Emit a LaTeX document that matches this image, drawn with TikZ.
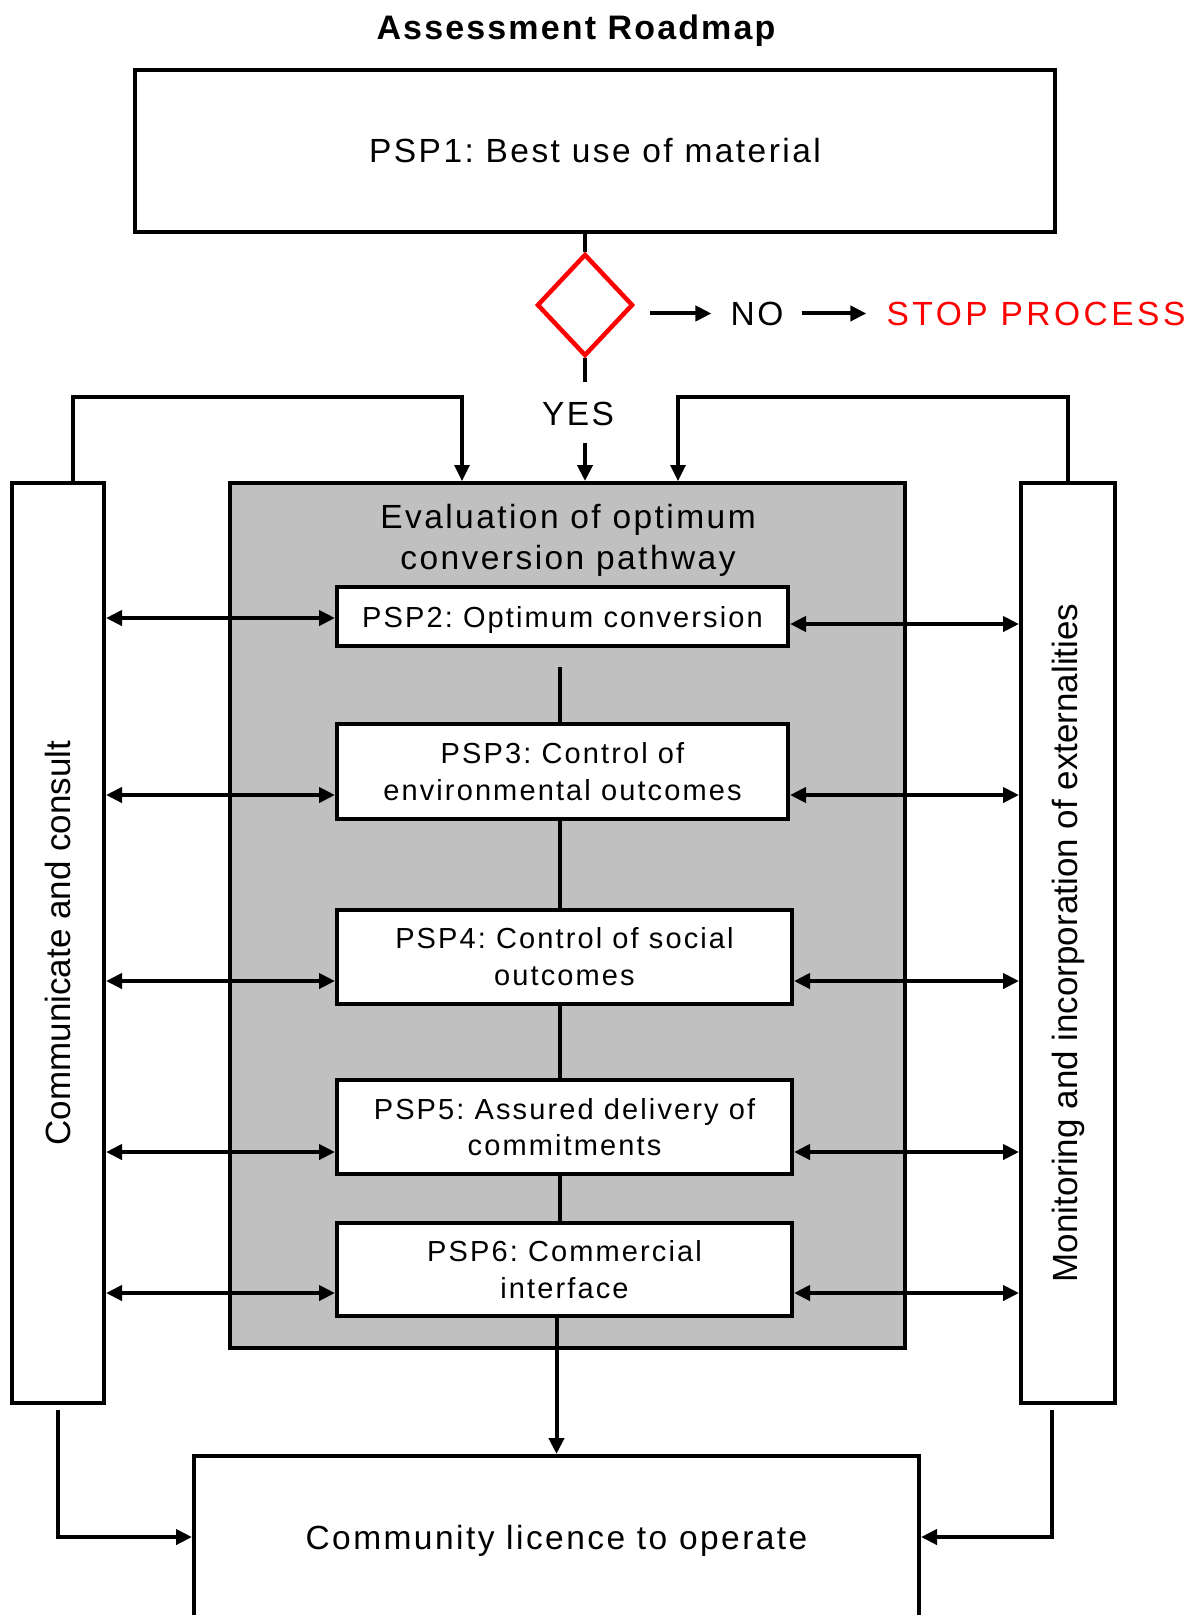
\documentclass[tikz,border=0pt]{standalone}
\usepackage{fontspec}
\setmainfont{Liberation Sans}[LetterSpace=7.3]
\newfontfamily\plainsans{Liberation Sans}
\frenchspacing
\usetikzlibrary{positioning, arrows.meta, shapes.geometric}
\definecolor{evalgrey}{RGB}{192,192,192}
\definecolor{stopred}{RGB}{255,0,0}
\tikzset{
bigbox/.style={draw, rectangle, line width=4pt, fill=white, inner sep=0pt, font=\fontsize{33.5}{41}\selectfont},
pspbox/.style={draw, rectangle, line width=4pt, fill=white, inner sep=0pt, align=center, font=\fontsize{29}{36.5}\selectfont},
sidebox/.style={draw, rectangle, line width=4pt, fill=white, inner sep=0pt, font=\plainsans\fontsize{35}{42}\selectfont},
decision/.style={diamond, draw=stopred, line width=4.5pt, minimum width=96pt, minimum height=102pt, inner sep=0pt},
words/.style={inner sep=0pt, font=\fontsize{33.5}{41}\selectfont},
link/.style={line width=4pt},
loopline/.style={line width=3.3pt, -{Triangle[length=16pt,width=15pt]}},
oneway/.style={line width=4pt, -{Triangle[length=16pt,width=15pt]}},
twoway/.style={line width=4pt, {Triangle[length=16pt,width=15pt]}-{Triangle[length=16pt,width=15pt]}},
}

\begin{document}
\begin{tikzpicture}[x=1pt, y=-1pt]
    \useasboundingbox (0,0) rectangle (1198,1615);

    %title and first step
    \node[words, anchor=base, font=\bfseries\fontsize{34}{41}\selectfont\addfontfeature{LetterSpace=6.3}] (title) at (576,39) {Assessment Roadmap};
    \node[bigbox, minimum width=920pt, minimum height=162pt] (psp1) at (595,151) {PSP1: Best use of material};

    %decision
    \node[decision] (dec) at (585,305) { };
    \node[words, anchor=base] (no) at (757,325) {NO};
    \node[words, anchor=base, text=stopred, font=\fontsize{33.5}{41}\selectfont\addfontfeature{LetterSpace=10.5}] (stop) at (1036,325) {STOP PROCESS};
    \node[words, anchor=base] (yes) at (578,425) {YES};
    \coordinate (yestop) at (585,382);
    \coordinate (yesbot) at (585,443);

    %side columns
    \node[sidebox, minimum width=92pt, minimum height=920pt] (lcol) at (58,943) {\rotatebox{90}{Communicate and consult}};
    \node[sidebox, minimum width=94pt, minimum height=920pt] (rcol) at (1068,943) {\rotatebox{90}{Monitoring and incorporation of externalities}};
    \coordinate (lcorner) at (462,397);
    \coordinate (rcorner) at (678,397);

    %evaluation box
    \node[bigbox, fill=evalgrey, minimum width=675pt, minimum height=865pt] (evalbox) at (567,915.5) { };
    \node[words, align=center] (evaltitle) at (568,540) {Evaluation of optimum\\conversion pathway};

    %steps inside
    \node[pspbox, text depth=0pt, minimum width=451pt, minimum height=59pt] (psp2) at (562.5,616.5) {PSP2: Optimum conversion};
    \node[pspbox, minimum width=451pt, minimum height=95pt] (psp3) at (562.5,771.5) {PSP3: Control of\\environmental outcomes};
    \node[pspbox, minimum width=455pt, minimum height=94pt] (psp4) at (564.5,956.5) {PSP4: Control of social\\outcomes};
    \node[pspbox, minimum width=455pt, minimum height=94pt] (psp5) at (564.5,1127) {PSP5: Assured delivery of\\commitments};
    \node[pspbox, minimum width=455pt, minimum height=93pt] (psp6) at (564.5,1269.5) {PSP6: Commercial\\interface};

    %last step
    \node[bigbox, minimum width=725pt, minimum height=170pt] (comm) at (556.5,1541) {Community licence to operate};

    %rows of the arrows
    \coordinate (row2l) at (0,618);
    \coordinate (row2r) at (0,624);
    \coordinate (row3) at (0,795);
    \coordinate (row4) at (0,981);
    \coordinate (row5) at (0,1152);
    \coordinate (row6) at (0,1293);
    \coordinate (row7) at (0,1537);
    \coordinate (gap) at (560,667);

    %decision lines
    \draw[link] (dec.north |- psp1.south)--(dec.north);
    \draw[link] (dec.south)--(yestop);
    \draw[oneway] (yesbot)--(evalbox.north -| yesbot);
    \draw[oneway] ([xshift=15pt]dec.east |- no.west)--([xshift=-19pt]no.west);
    \draw[oneway] ([xshift=18pt]no.east)--([xshift=-20pt]stop.west);

    %loops over the top
    \draw[loopline] ([xshift=15pt]lcol.north) |- (lcorner)--(lcorner |- evalbox.north);
    \draw[loopline] (rcol.north) |- (rcorner)--(rcorner |- evalbox.north);

    %steps chain
    \draw[link] (gap)--(gap |- psp3.north);
    \draw[link] (psp3.south -| gap)--(psp4.north -| gap);
    \draw[link] (psp4.south -| gap)--(psp5.north -| gap);
    \draw[link] (psp5.south -| gap)--(psp6.north -| gap);
    \draw[oneway] (psp6.south -| comm.north)--(comm.north);

    %left arrows
    \draw[twoway] (lcol.east |- row2l)--(psp2.west |- row2l);
    \draw[twoway] (lcol.east |- row3)--(psp3.west |- row3);
    \draw[twoway] (lcol.east |- row4)--(psp4.west |- row4);
    \draw[twoway] (lcol.east |- row5)--(psp5.west |- row5);
    \draw[twoway] (lcol.east |- row6)--(psp6.west |- row6);

    %right arrows
    \draw[twoway] (psp2.east |- row2r)--(rcol.west |- row2r);
    \draw[twoway] (psp3.east |- row3)--(rcol.west |- row3);
    \draw[twoway] (psp4.east |- row4)--(rcol.west |- row4);
    \draw[twoway] (psp5.east |- row5)--(rcol.west |- row5);
    \draw[twoway] (psp6.east |- row6)--(rcol.west |- row6);

    %into the last step
    \draw[oneway] ([yshift=-5pt]lcol.south) |- (comm.west |- row7);
    \draw[oneway] ([xshift=-16pt, yshift=-5pt]rcol.south) |- (comm.east |- row7);
\end{tikzpicture}
\end{document}
